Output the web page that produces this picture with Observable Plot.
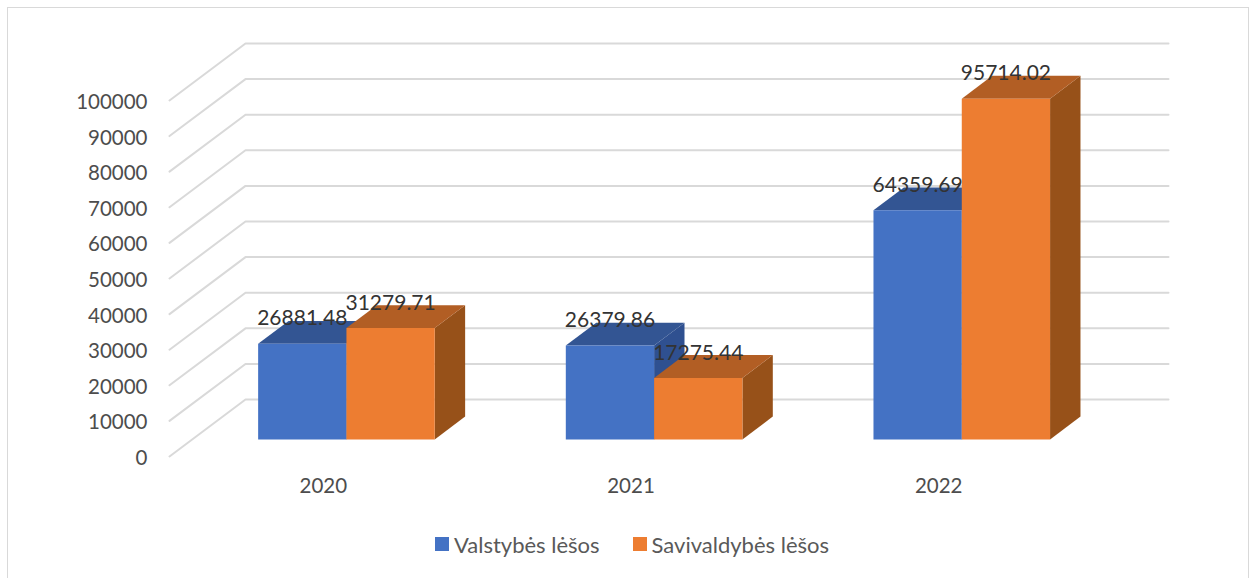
<!DOCTYPE html>
<html lang="lt">
<head>
<meta charset="utf-8">
<script src="https://cdn.jsdelivr.net/npm/d3@7"></script>
<script src="https://cdn.jsdelivr.net/npm/@observablehq/plot@0.6"></script>
<style>
  html, body { margin: 0; padding: 0; background: #fff; }
  #page { position: relative; width: 1253px; height: 578px; overflow: hidden; font-family: Lato, sans-serif; }
  #border { position: absolute; left: 7px; top: 7px; right: 4px; bottom: -10px; border: 1.5px solid #d9d9d9; pointer-events: none; }
  #chart svg { display: block; }
  #legend { display: flex; justify-content: flex-start; align-items: center; height: 48px; padding-left: 435px; font-size: 22px; color: #595959; }
  #legend .item { display: flex; align-items: center; margin-right: 33px; }
  #legend .swatch { width: 14px; height: 14px; margin-right: 5px; }
</style>
</head>
<body>
<div id="page">
  <div id="border"></div>
  <div id="chart"></div>
  <div id="legend"></div>
</div>
<script>
const categories = ["2020", "2021", "2022"];
const seriesNames = ["Valstybės lėšos", "Savivaldybės lėšos"];
const stateFunds = [26881.48, 26379.86, 64359.69];
const municipalFunds = [31279.71, 17275.44, 95714.02];
const yTicks = [0, 10000, 20000, 30000, 40000, 50000, 60000, 70000, 80000, 90000, 100000];
const frontColors = ["#4472c4", "#ed7d31"];
const topColors = ["#335593", "#b25e24"];
const sideColors = ["#2f5090", "#975119"];

// Oblique projection of the 3-D column chart, in data units.
const depthX = 0.247;       // category units per full floor depth
const depthY = 16000;       // value units per full floor depth
const barStart = 0.3;       // front of the bars, as a share of the depth
const barEnd = 0.7;         // back of the bars
const barWidth = 0.287;     // category units
const xShift = 0.001;

const project = (x, v, d) => ({x: x + d * depthX, y: v + d * depthY});

const gridLines = yTicks.flatMap((v) => [
  {id: v, ...project(0, v, 0)},
  {id: v, ...project(0, v, 1)},
  {id: v, ...project(categories.length, v, 1)}
]);

const faces = [];
const labels = [];
categories.forEach((cat, i) => {
  [stateFunds[i], municipalFunds[i]].forEach((v, s) => {
    const x0 = i + 0.5 + xShift + (s - 1) * barWidth;
    const x1 = x0 + barWidth;
    const face = (name, fill, corners) =>
      corners.forEach(([x, value, d]) => faces.push({id: `${cat}-${s}-${name}`, fill, ...project(x, value, d)}));
    face("side", sideColors[s], [[x1, 0, barStart], [x1, 0, barEnd], [x1, v, barEnd], [x1, v, barStart]]);
    face("top", topColors[s], [[x0, v, barStart], [x1, v, barStart], [x1, v, barEnd], [x0, v, barEnd]]);
    face("front", frontColors[s], [[x0, 0, barStart], [x1, 0, barStart], [x1, v, barStart], [x0, v, barStart]]);
    labels.push({text: v.toFixed(2), ...project((x0 + x1) / 2, v, barStart)});
  });
});

const chart = Plot.plot({
  width: 1253,
  height: 520,
  marginLeft: 169,
  marginRight: 85,
  marginTop: 43,
  marginBottom: 64,
  style: {fontFamily: "Lato, sans-serif", background: "transparent"},
  x: {domain: [0, categories.length + depthX], axis: null},
  y: {domain: [0, 100000 + depthY], axis: null},
  marks: [
    Plot.line(gridLines, {x: "x", y: "y", z: "id", stroke: "#d9d9d9", strokeWidth: 2, curve: "linear"}),
    Plot.line(faces, {x: "x", y: "y", z: "id", fill: "fill", stroke: "none", curve: "linear"}),
    Plot.axisY({
      ticks: yTicks, tickSize: 0, tickPadding: 22, fontSize: 20.5, color: "#4d4d4d", dy: 2,
      label: null, tickFormat: (d) => String(d)
    }),
    Plot.axisX({
      ticks: categories.map((_, i) => i + 0.5), tickSize: 0, tickPadding: 22, fontSize: 20.5, color: "#4d4d4d",
      label: null, tickFormat: (d) => categories[Math.floor(d)]
    }),
    Plot.text(labels, {x: "x", y: "y", text: "text", dy: -25, fontSize: 21, fill: "#333333"})
  ]
});
document.getElementById("chart").append(chart);

const legend = document.getElementById("legend");
seriesNames.forEach((name, s) => {
  const item = document.createElement("div");
  item.className = "item";
  const sw = document.createElement("span");
  sw.className = "swatch";
  sw.style.background = frontColors[s];
  const label = document.createElement("span");
  label.textContent = name;
  item.append(sw, label);
  legend.append(item);
});
</script>
</body>
</html>
